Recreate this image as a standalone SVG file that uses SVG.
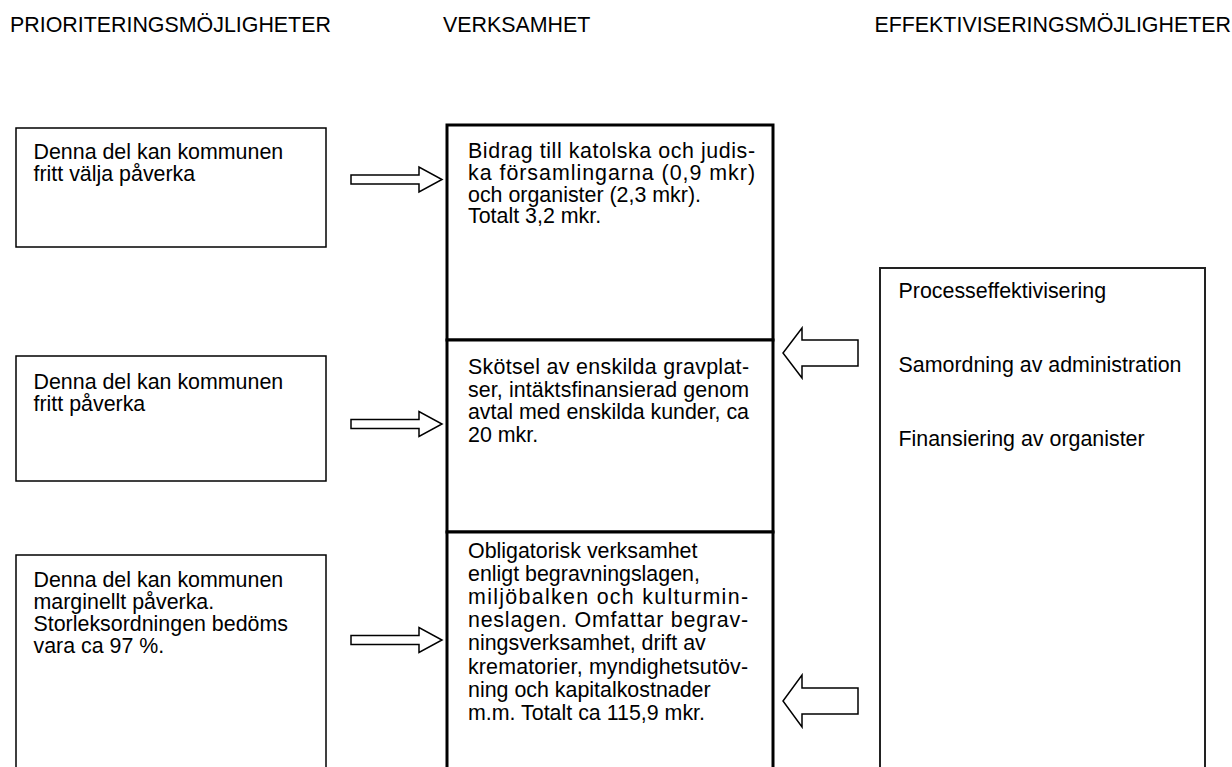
<svg xmlns="http://www.w3.org/2000/svg" width="1232" height="767" viewBox="0 0 1232 767">
<style>
text{font-family:"Liberation Sans",Arial,sans-serif;font-size:21.4px;fill:#000}
.lbox{fill:#fff;stroke:#000;stroke-width:1.5}
.mbox{fill:#fff;stroke:#000;stroke-width:3}
.rbox{fill:#fff;stroke:#222;stroke-width:2}
.arr{fill:#fff;stroke:#000;stroke-width:1.5;stroke-linejoin:miter}
</style>
<rect width="1232" height="767" fill="#fff"/>
<g id="headings">
<text x="10" y="32">PRIORITERINGSMÖJLIGHETER</text>
<text x="443" y="32">VERKSAMHET</text>
<text x="1231" y="32" text-anchor="end">EFFEKTIVISERINGSMÖJLIGHETER</text>
</g>
<g id="left1">
<rect class="lbox" x="16" y="128" width="310" height="119"/>
<text x="33.5" y="159"><tspan x="33.5">Denna del kan kommunen</tspan><tspan x="33.5" dy="22">fritt välja påverka</tspan></text>
</g>
<g id="left2">
<rect class="lbox" x="16" y="356" width="310" height="125"/>
<text x="33.5" y="389"><tspan x="33.5">Denna del kan kommunen</tspan><tspan x="33.5" dy="22">fritt påverka</tspan></text>
</g>
<g id="left3">
<rect class="lbox" x="16" y="555" width="310" height="230"/>
<text x="33.5" y="587"><tspan x="33.5">Denna del kan kommunen</tspan><tspan x="33.5" dy="22">marginellt påverka.</tspan><tspan x="33.5" dy="22">Storleksordningen bedöms</tspan><tspan x="33.5" dy="22">vara ca 97 %.</tspan></text>
</g>
<g id="mid1">
<rect class="mbox" x="447" y="125" width="326" height="215"/>
<text x="468" y="158"><tspan x="468" textLength="287" lengthAdjust="spacing">Bidrag till katolska och judis-</tspan><tspan x="468" dy="21.8" textLength="287" lengthAdjust="spacing">ka församlingarna (0,9 mkr)</tspan><tspan x="468" dy="21.8">och organister (2,3 mkr).</tspan><tspan x="468" dy="21.8">Totalt 3,2 mkr.</tspan></text>
</g>
<g id="mid2">
<rect class="mbox" x="447" y="340" width="326" height="192"/>
<text x="468" y="374"><tspan x="468" textLength="281" lengthAdjust="spacing">Skötsel av enskilda gravplat-</tspan><tspan x="468" dy="22.6" textLength="281" lengthAdjust="spacing">ser, intäktsfinansierad genom</tspan><tspan x="468" dy="22.6" textLength="281" lengthAdjust="spacing">avtal med enskilda kunder, ca</tspan><tspan x="468" dy="22.6">20 mkr.</tspan></text>
</g>
<g id="mid3">
<rect class="mbox" x="447" y="532" width="326" height="250"/>
<text x="468" y="558"><tspan x="468">Obligatorisk verksamhet</tspan><tspan x="468" dy="23.1">enligt begravningslagen,</tspan><tspan x="468" dy="23.1" textLength="280" lengthAdjust="spacing">miljöbalken och kulturmin-</tspan><tspan x="468" dy="23.1" textLength="280" lengthAdjust="spacing">neslagen. Omfattar begrav-</tspan><tspan x="468" dy="23.1">ningsverksamhet, drift av</tspan><tspan x="468" dy="23.1" textLength="280" lengthAdjust="spacing">krematorier, myndighetsutöv-</tspan><tspan x="468" dy="23.1">ning och kapitalkostnader</tspan><tspan x="468" dy="23.1">m.m. Totalt ca 115,9 mkr.</tspan></text>
</g>
<g id="right">
<rect class="rbox" x="880" y="268" width="325" height="520"/>
<text x="898.5" y="298">Processeffektivisering</text>
<text x="898.5" y="372">Samordning av administration</text>
<text x="898.5" y="446">Finansiering av organister</text>
</g>
<g id="connectors">
<polygon class="arr" points="351,175 419,175 419,167 442,179.5 419,192 419,184 351,184"/>
<polygon class="arr" points="351,419.5 419,419.5 419,411.5 442,424 419,436.5 419,428.5 351,428.5"/>
<polygon class="arr" points="351,635.5 419,635.5 419,627.5 442,640 419,652.5 419,644.5 351,644.5"/>
<polygon class="arr" points="858,340 802,340 802,328 783,353 802,378 802,366 858,366"/>
<polygon class="arr" points="858,688 802,688 802,675 783,701 802,727 802,714 858,714"/>
</g>
</svg>
